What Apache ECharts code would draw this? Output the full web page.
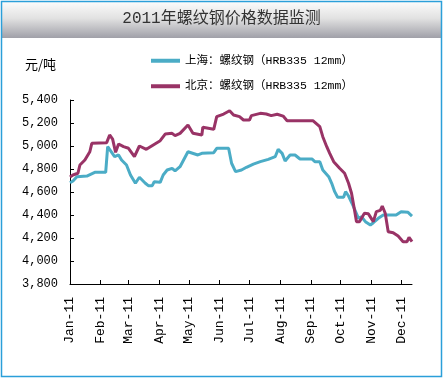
<!DOCTYPE html>
<html>
<head>
<meta charset="utf-8">
<script src="https://cdn.jsdelivr.net/npm/echarts@6/dist/echarts.min.js"></script>
<style>html,body{margin:0;padding:0;background:#fff;}#c{width:443px;height:378px;}</style>
</head>
<body>
<div id="c"></div>
<script>
const monthNames = ['Jan','Feb','Mar','Apr','May','Jun','Jul','Aug','Sep','Oct','Nov','Dec'];
const yTicks = [3800, 5400, 200]; // min, max, step

const shDates = ['01-01','01-04','01-08','01-18','01-26','02-06','02-08','02-10','02-15','02-19','02-22','02-27','03-03','03-08','03-12','03-18','03-21','03-25','03-27','04-02','04-05','04-09','04-14','04-17','04-22','04-30','05-10','05-14','05-26','05-29','06-10','06-13','06-17','06-23','06-28','07-05','07-12','07-20','07-27','07-30','08-03','08-06','08-11','08-16','08-21','09-02','09-05','09-10','09-13','09-19','09-22','09-25','09-28','10-04','10-06','10-09','10-14','10-19','10-22','10-26','10-31','11-03','11-08','11-13','11-26','12-01','12-08','12-12'];
const shValues = [4680,4696,4733,4739,4771,4771,4994,5000,4907,4922,4878,4835,4748,4676,4728,4676,4655,4655,4690,4684,4748,4791,4806,4783,4820,4950,4922,4936,4942,4980,4980,4850,4777,4791,4815,4843,4864,4884,4907,4971,4936,4870,4922,4922,4887,4887,4864,4864,4791,4733,4676,4603,4554,4554,4603,4565,4472,4371,4385,4342,4313,4333,4371,4400,4400,4429,4423,4391];

const bjDates = ['01-01','01-04','01-09','01-11','01-16','01-21','01-23','02-07','02-10','02-11','02-13','02-16','02-19','02-24','03-01','03-07','03-12','03-19','03-26','04-02','04-07','04-14','04-17','04-22','04-30','05-05','05-14','05-15','05-26','05-29','06-05','06-11','06-15','06-21','06-25','07-01','07-03','07-12','07-18','07-23','07-29','08-04','08-08','09-03','09-10','09-13','09-17','09-20','09-24','09-30','10-05','10-09','10-12','10-15','10-17','10-20','10-25','10-29','11-03','11-06','11-10','11-12','11-15','11-18','11-23','11-28','12-03','12-07','12-09','12-12'];
const bjValues = [4730,4748,4763,4835,4878,4950,5023,5029,5096,5104,5060,4945,5017,4994,4980,4907,5000,4971,5009,5046,5104,5110,5090,5110,5183,5110,5096,5163,5145,5255,5278,5307,5270,5255,5226,5226,5264,5284,5278,5264,5276,5260,5220,5220,5168,5081,4994,4936,4864,4806,4763,4676,4589,4443,4342,4342,4415,4410,4342,4429,4440,4478,4415,4255,4246,4217,4168,4168,4206,4168];

const seriesNames = ['上海：螺纹钢（HRB335 12mm）','北京：螺纹钢（HRB335 12mm）'];
const titleText = '2011年螺纹钢价格数据监测';
const unitText = '元/吨';

// build day categories Jan 1 .. Dec 12
const categories = [];
const monthDays = [31,28,31,30,31,30,31,31,30,31,30,31];
for (let m = 0; m < 12; m++) {
  for (let d = 1; d <= monthDays[m]; d++) {
    const s = String(m+1).padStart(2,'0') + '-' + String(d).padStart(2,'0');
    categories.push(s);
    if (s === '12-12') break;
  }
}
const isMonthStart = (i, v) => v.endsWith('-01');
const pair = (ds, vs) => ds.map((d, i) => [d, vs[i]]);

const chart = echarts.init(document.getElementById('c'), null, {renderer:'canvas'});
chart.setOption({
  animation: false,
  backgroundColor: '#fff',
  graphic: [
    {type:'rect', z:-10, shape:{x:2,y:2,width:439,height:36},
     style:{fill:new echarts.graphic.LinearGradient(0,0,0,1,[
       {offset:0,color:'#fbfbfb'},{offset:0.45,color:'#e2e2e2'},{offset:1,color:'#a0a0a8'}])}},
    {type:'rect', z:100, shape:{x:1.5,y:1.5,width:440,height:375},
     style:{fill:'none', stroke:'#2b9fd9', lineWidth:1.5}},
    {type:'text', z:101, left:'center', top:11,
     style:{text:titleText, fill:'#333', font:'16px "Liberation Mono", "Noto Sans CJK SC"'}},
    {type:'text', z:101, left:25, top:58,
     style:{text:unitText, fill:'#000', font:'13px "Noto Sans CJK SC"'}}
  ],
  legend: {
    orient:'vertical', left:146, top:50, itemWidth:29, itemHeight:4, itemGap:14,
    icon:'rect',
    textStyle:{fontSize:11.5, fontFamily:'"Liberation Mono", "Noto Sans CJK SC"', color:'#000'},
    data: seriesNames
  },
  grid: {left:70, right:31, top:100, bottom:94, containLabel:false},
  xAxis: {
    type:'category', data:categories, boundaryGap:false,
    axisLine:{lineStyle:{color:'#000', width:1}},
    axisTick:{inside:true, length:4, interval:isMonthStart, lineStyle:{color:'#000'}},
    axisLabel:{interval:isMonthStart, rotate:90, margin:13, color:'#000',
      fontSize:13, fontFamily:'"Liberation Mono"',
      formatter:(v)=> monthNames[parseInt(v.slice(0,2),10)-1] + '-11'},
    splitLine:{show:false}
  },
  yAxis: {
    type:'value', min:yTicks[0], max:yTicks[1], interval:yTicks[2],
    axisLine:{show:true, lineStyle:{color:'#000', width:1}},
    axisTick:{show:true, inside:true, length:4, lineStyle:{color:'#000'}},
    axisLabel:{margin:12, color:'#000', fontSize:12, fontFamily:'"Liberation Mono"',
      formatter:(v)=> v.toLocaleString('en-US')},
    splitLine:{show:false}
  },
  series: [
    {name:seriesNames[0], type:'line', data:pair(shDates, shValues), showSymbol:false,
     symbol:'none', color:'#4bacc6', lineStyle:{width:3, color:'#4bacc6'}},
    {name:seriesNames[1], type:'line', data:pair(bjDates, bjValues), showSymbol:false,
     symbol:'none', color:'#993366', lineStyle:{width:3, color:'#993366'}}
  ]
});
</script>
</body>
</html>
